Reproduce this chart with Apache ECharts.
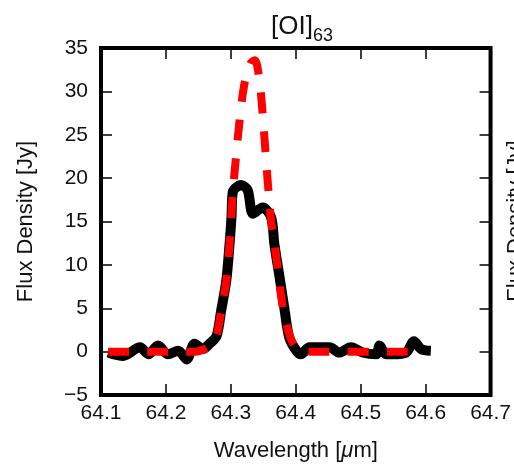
<!DOCTYPE html>
<html>
<head>
<meta charset="utf-8">
<script src="https://cdn.jsdelivr.net/npm/echarts@6/dist/echarts.min.js"></script>
<style>
html,body{margin:0;padding:0;background:#fff;}
#chart{width:514px;height:469px;}
</style>
</head>
<body>
<div id="chart"></div>
<script>
// Observed spectrum (black solid)
var obsWave = [64.111,64.134,64.160,64.173,64.188,64.203,64.219,64.232,64.244,64.257,64.267,64.278,64.285,64.293,64.298,64.301,64.303,64.316,64.326,64.334,64.349,64.362,64.367,64.375,64.383,64.390,64.401,64.408,64.421,64.452,64.467,64.485,64.503,64.524,64.529,64.539,64.549,64.570,64.582,64.593,64.608];
var obsFlux = [-0.1,-0.5,0.5,-0.3,0.7,-0.3,0.1,-0.9,0.9,0.3,0.9,1.8,4.7,8.2,12.4,15.5,18.4,19.2,18.6,15.9,16.6,15.5,12.4,8.6,4.7,1.6,0.1,-0.3,0.5,0.5,-0.1,0.5,-0.1,-0.3,0.7,-0.3,-0.3,-0.1,1.2,0.3,0.1];
// Model (red dashed)
var modWave = [64.111,64.200,64.245,64.260,64.270,64.278,64.285,64.293,64.298,64.303,64.306,64.3135,64.321,64.330,64.337,64.344,64.349,64.352,64.357,64.362,64.370,64.380,64.390,64.400,64.412,64.600];
var modFlux = [0,0,0,0.3,0.8,1.8,4.6,8.2,12.4,18.3,20.9,26.7,30.9,33.2,33.6,31.3,27.4,24.4,19.4,15.1,10.9,5.1,2.0,0.4,0,0];
var xTicks = [64.1,64.2,64.3,64.4,64.5,64.6,64.7];
var yTicks = [-5,0,5,10,15,20,25,30,35];

var FONT = 'Liberation Sans, Arial, Helvetica, sans-serif';
function pairs(a,b){return a.map(function(v,i){return [v,b[i]];});}

var chart = echarts.init(document.getElementById('chart'), null, {renderer:'canvas'});
var xMin = xTicks[0], xMax = xTicks[xTicks.length-1];
var yMin = yTicks[0], yMax = yTicks[yTicks.length-1];
var tickStyle = {show:true, inside:true, length:11, lineStyle:{color:'#000', width:1.5}};
var noLine = {show:false, onZero:false};

var option = {
  animation:false,
  backgroundColor:'#fff',
  grid:{left:101, top:48, width:391, height:347, show:true, borderColor:'#000', borderWidth:4, backgroundColor:'transparent'},
  title:{
    text:'{a|[OI]}{b|63}', left:297, textAlign:'center', top:5,
    textStyle:{fontWeight:'normal', rich:{
      a:{fontFamily:FONT, fontSize:26, fontWeight:'normal', color:'#111', verticalAlign:'bottom', lineHeight:30},
      b:{fontFamily:FONT, fontSize:18, fontWeight:'normal', color:'#111', verticalAlign:'bottom', lineHeight:22, padding:[0,0,-5,0]}
    }}
  },
  xAxis:[{
    type:'value', min:xMin, max:xMax, interval:0.1, position:'bottom',
    axisLine:noLine, splitLine:{show:false}, axisTick:tickStyle,
    axisLabel:{margin:8, fontFamily:FONT, fontSize:21, color:'#111', formatter:function(v){return v.toFixed(1);}},
    name:'{n|Wavelength [}{i|μ}{n|m]}', nameLocation:'middle', nameGap:45,
    nameTextStyle:{fontFamily:FONT, fontSize:22, color:'#111', rich:{
      n:{fontFamily:FONT, fontSize:22, color:'#111'},
      i:{fontFamily:FONT, fontSize:22, color:'#111', fontStyle:'italic'}
    }}
  },{
    type:'value', min:xMin, max:xMax, interval:0.1, position:'top',
    axisLine:noLine, splitLine:{show:false}, axisTick:tickStyle, axisLabel:{show:false}
  }],
  yAxis:[{
    type:'value', min:yMin, max:yMax, interval:5, position:'left',
    axisLine:noLine, splitLine:{show:false}, axisTick:tickStyle,
    axisLabel:{margin:13, fontFamily:FONT, fontSize:21, color:'#111', formatter:function(v){return String(v).replace('-','\u2212');}},
    name:'Flux Density [Jy]', nameLocation:'middle', nameGap:64, nameRotate:90,
    nameTextStyle:{fontFamily:FONT, fontSize:22, color:'#111'}
  },{
    type:'value', min:yMin, max:yMax, interval:5, position:'right',
    axisLine:noLine, splitLine:{show:false}, axisTick:tickStyle, axisLabel:{show:false}
  }],
  graphic:[{
    type:'text', x:516, y:221, rotation:Math.PI/2,
    style:{text:'Flux Density [Jy]', font:'22px ' + FONT, fill:'#111', textAlign:'center', textVerticalAlign:'middle'}
  }],
  series:[{
    type:'line', name:'observed', data:pairs(obsWave, obsFlux), xAxisIndex:0, yAxisIndex:0,
    smooth:0.3, showSymbol:false, symbol:'none', clip:true, z:2,
    lineStyle:{color:'#000', width:10}
  },{
    type:'line', name:'model', data:pairs(modWave, modFlux), xAxisIndex:0, yAxisIndex:0,
    smooth:0.3, showSymbol:false, symbol:'none', clip:true, z:3,
    lineStyle:{color:'#ff0000', width:8, type:[21,18]}
  }]
};
chart.setOption(option);
</script>
</body>
</html>
